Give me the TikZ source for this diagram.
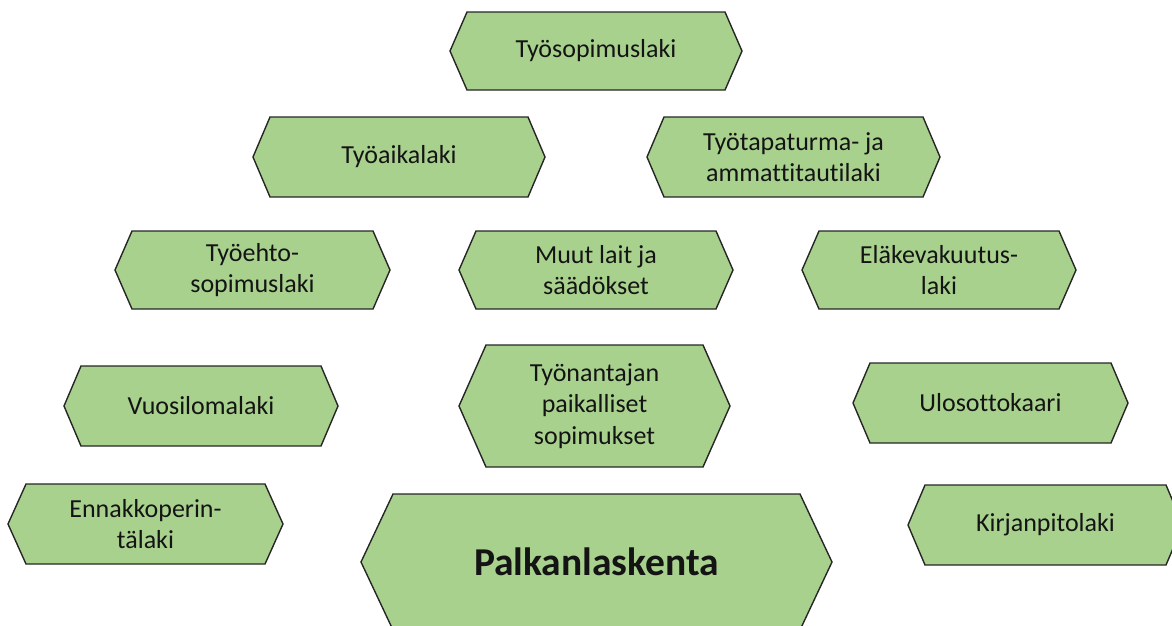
\documentclass[tikz,border=0pt]{standalone}
\usepackage{fontspec}
\setmainfont[Ligatures={NoCommon}]{Carlito}
\definecolor{hexfill}{HTML}{A9D18E}
\definecolor{hexline}{HTML}{262626}
\definecolor{txt}{HTML}{141414}
\tikzset{
  hexshape/.style={fill=hexfill,draw=hexline,line width=1.4pt,line join=miter},
  lbl/.style={align=center,text=txt,font=\fontsize{26}{31.5}\selectfont,inner sep=0pt},
  biglbl/.style={align=center,text=txt,font=\fontsize{39.5}{45}\selectfont\bfseries,inner sep=0pt}
}
% #1 name, #2 cx, #3 cy, #4 outer half-width, #5 half-height, #6 inset, #7 style, #8 text
\newcommand{\hexnode}[8]{%
  \draw[hexshape] ({#2-#4},#3) -- ({#2-#4+#6},{#3-#5}) -- ({#2+#4-#6},{#3-#5})
    -- ({#2+#4},#3) -- ({#2+#4-#6},{#3+#5}) -- ({#2-#4+#6},{#3+#5}) -- cycle;
  \node[#7] (#1) at (#2,#3) {#8};
}
\begin{document}
\begin{tikzpicture}[x=1pt,y=-1pt]
\useasboundingbox (0,0) rectangle (1172,625);
\clip (0,0) rectangle (1172,625);
\hexnode{tsl}{596}{51}{146}{39}{17}{lbl}{Työsopimuslaki}
\hexnode{tal}{399}{157}{146}{40}{17}{lbl}{Työaikalaki}
\hexnode{ttl}{793.5}{157}{146.5}{40}{17}{lbl}{Työtapaturma- ja\\ammattitautilaki}
\hexnode{tes}{252.5}{270}{137.5}{39}{17}{lbl}{Työehto-\\sopimuslaki}
\hexnode{mls}{596}{270}{137}{39}{17}{lbl}{Muut lait ja\\säädökset}
\hexnode{evl}{939}{270}{137}{39}{17}{lbl}{Eläkevakuutus-\\laki}
\hexnode{vsl}{201}{406}{137}{40}{17}{lbl}{Vuosilomalaki}
\hexnode{tps}{594.5}{406}{135.5}{61}{27}{lbl}{Työnantajan\\paikalliset\\sopimukset}
\hexnode{uok}{990.5}{403}{137.5}{40}{17}{lbl}{Ulosottokaari}
\hexnode{epl}{145.5}{524}{137.5}{40}{18}{lbl}{Ennakkoperin-\\tälaki}
\hexnode{pls}{596.5}{562}{235.5}{68}{32}{biglbl}{Palkanlaskenta}
\hexnode{kpl}{1045.5}{525}{137.5}{40}{17}{lbl}{Kirjanpitolaki}
\end{tikzpicture}
\end{document}
